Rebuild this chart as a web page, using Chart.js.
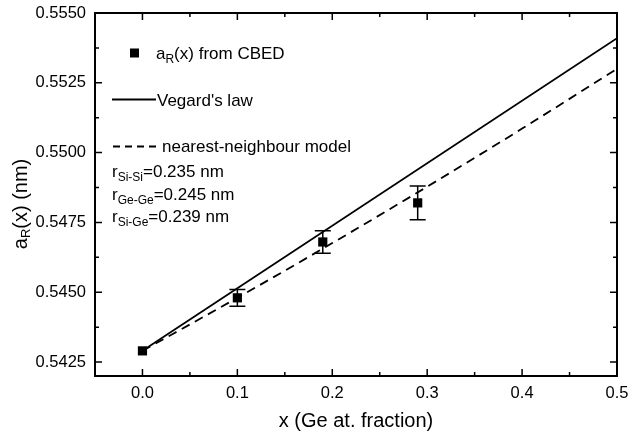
<!DOCTYPE html>
<html lang="en">
<head>
<meta charset="utf-8">
<title>SiGe lattice parameter</title>
<script src="https://cdn.jsdelivr.net/npm/chart.js"></script>
<style>
  body { margin: 0; background: #fff; }
  #box { position: relative; width: 629px; height: 436px; }
</style>
</head>
<body>
<div id="box"><canvas id="myChart" width="629" height="436"></canvas></div>

<script>
// lattice parameter measured by CBED, with error bars
const cbedX = [0.0, 0.1, 0.19, 0.29];
const cbedY = [0.5429, 0.5448, 0.5468, 0.5482];
const cbedErr = [0.0, 0.0003, 0.0004, 0.0006];

// Vegard's law
const vegardX = [0.0, 0.5];
const vegardY = [0.5429, 0.5541];

// nearest-neighbour model
const nnX = [0.0, 0.1, 0.2, 0.3, 0.4, 0.5];
const nnY = [0.5429, 0.5448, 0.54676, 0.54878, 0.55086, 0.5530];

// axis ticks
const xMajor = [0.0, 0.1, 0.2, 0.3, 0.4, 0.5];
const xMinor = [0.05, 0.15, 0.25, 0.35, 0.45];
const yMajor = [0.5425, 0.5450, 0.5475, 0.5500, 0.5525, 0.5550];
const yMinor = [0.54375, 0.54625, 0.54875, 0.55125, 0.55375];

const FONT = '"Liberation Sans", Arial, sans-serif';

function pts(xs, ys) {
    return xs.map((x, i) => ({x: x, y: ys[i]}));
}

function isMajor(list, v) {
    return list.some(m => Math.abs(m - v) < 1e-9);
}

// text with subscripts, parts = [[text, isSub], ...]
function subText(ctx, x, y, parts, size, subSize, drop) {
    parts.forEach(p => {
        ctx.font = (p[1] ? subSize : size) + 'px ' + FONT;
        ctx.fillText(p[0], x, y + (p[1] ? drop : 0));
        x += ctx.measureText(p[0]).width;
    });
    return x;
}

function subWidth(ctx, parts, size, subSize) {
    let w = 0;
    parts.forEach(p => {
        ctx.font = (p[1] ? subSize : size) + 'px ' + FONT;
        w += ctx.measureText(p[0]).width;
    });
    return w;
}

// frame, inward ticks, error bars, legend and y title
const decor = {
    id: 'decor',
    afterDatasetsDraw(chart) {
        const ctx = chart.ctx;
        const a = chart.chartArea;
        const sx = chart.scales.x, sy = chart.scales.y;
        ctx.save();
        ctx.strokeStyle = '#000';
        ctx.fillStyle = '#000';

        // error bars
        ctx.lineWidth = 1.5;
        ctx.beginPath();
        cbedX.forEach((x, i) => {
            if (!cbedErr[i]) return;
            const px = sx.getPixelForValue(x);
            const t = sy.getPixelForValue(cbedY[i] + cbedErr[i]);
            const b = sy.getPixelForValue(cbedY[i] - cbedErr[i]);
            ctx.moveTo(px, t); ctx.lineTo(px, b);
            ctx.moveTo(px - 8, t); ctx.lineTo(px + 8, t);
            ctx.moveTo(px - 8, b); ctx.lineTo(px + 8, b);
        });
        ctx.stroke();

        // frame
        ctx.lineWidth = 2;
        ctx.strokeRect(a.left, a.top, a.right - a.left, a.bottom - a.top);

        // ticks pointing inwards on all four sides
        ctx.lineWidth = 1.5;
        ctx.beginPath();
        const tx = (v, len) => {
            const p = sx.getPixelForValue(v);
            ctx.moveTo(p, a.bottom); ctx.lineTo(p, a.bottom - len);
            ctx.moveTo(p, a.top); ctx.lineTo(p, a.top + len);
        };
        const ty = (v, len) => {
            const p = sy.getPixelForValue(v);
            ctx.moveTo(a.left, p); ctx.lineTo(a.left + len, p);
            ctx.moveTo(a.right, p); ctx.lineTo(a.right - len, p);
        };
        xMajor.forEach(v => tx(v, 7));
        xMinor.forEach(v => tx(v, 4));
        yMajor.forEach(v => ty(v, 7));
        yMinor.forEach(v => ty(v, 4));
        ctx.stroke();

        // legend
        ctx.textAlign = 'left';
        ctx.textBaseline = 'alphabetic';
        ctx.fillRect(130, 48.5, 9, 9);
        subText(ctx, 156, 59, [['a', false], ['R', true], ['(x) from CBED', false]], 17, 12, 4);

        ctx.lineWidth = 1.8;
        ctx.beginPath();
        ctx.moveTo(112, 99.5); ctx.lineTo(156, 99.5);
        ctx.stroke();
        ctx.font = '17px ' + FONT;
        ctx.fillText("Vegard's law", 157, 105.5);

        ctx.setLineDash([7, 5]);
        ctx.beginPath();
        ctx.moveTo(113, 146.5); ctx.lineTo(161, 146.5);
        ctx.stroke();
        ctx.setLineDash([]);
        ctx.fillText('nearest-neighbour model', 162, 152);

        subText(ctx, 112, 177, [['r', false], ['Si-Si', true], ['=0.235 nm', false]], 17, 12, 4);
        subText(ctx, 112, 199.5, [['r', false], ['Ge-Ge', true], ['=0.245 nm', false]], 17, 12, 4);
        subText(ctx, 112, 222, [['r', false], ['Si-Ge', true], ['=0.239 nm', false]], 17, 12, 4);

        // y axis title
        const yt = [['a', false], ['R', true], ['(x) (nm)', false]];
        const w = subWidth(ctx, yt, 20, 13);
        ctx.translate(27, 204);
        ctx.rotate(-Math.PI / 2);
        subText(ctx, -w / 2, 0, yt, 20, 13, 3);
        ctx.restore();
    }
};

const ctx = document.getElementById('myChart');

new Chart(ctx, {
    type: 'scatter',
    data: {
        datasets: [{
            label: 'aR(x) from CBED',
            data: pts(cbedX, cbedY),
            pointStyle: 'rect',
            pointRadius: 6.5,
            backgroundColor: '#000',
            borderColor: '#000',
            borderWidth: 0
        }, {
            label: "Vegard's law",
            data: pts(vegardX, vegardY),
            showLine: true,
            pointRadius: 0,
            borderColor: '#000',
            borderWidth: 1.8
        }, {
            label: 'nearest-neighbour model',
            data: pts(nnX, nnY),
            showLine: true,
            cubicInterpolationMode: 'monotone',
            pointRadius: 0,
            borderColor: '#000',
            borderWidth: 1.8,
            borderDash: [9, 6]
        }]
    },
    options: {
        responsive: false,
        animation: false,
        layout: { padding: { left: 0, right: 12, top: 13, bottom: 0 } },
        plugins: {
            legend: { display: false },
            tooltip: { enabled: false }
        },
        scales: {
            x: {
                type: 'linear',
                min: -0.05,
                max: 0.5,
                afterBuildTicks: s => { s.ticks = xMajor.concat(xMinor).sort((p, q) => p - q).map(v => ({value: v})); },
                afterFit: s => { s.height = 60; s.paddingLeft = 0; s.paddingRight = 0; },
                grid: { display: false, drawTicks: false },
                border: { display: false },
                ticks: {
                    autoSkip: false,
                    maxRotation: 0,
                    padding: 8,
                    color: '#000',
                    font: { family: FONT, size: 16.5 },
                    callback: v => isMajor(xMajor, v) ? v.toFixed(1) : ''
                },
                title: {
                    display: true,
                    text: 'x (Ge at. fraction)',
                    color: '#000',
                    font: { family: FONT, size: 20 },
                    padding: { top: 0, bottom: 3 }
                }
            },
            y: {
                type: 'linear',
                min: 0.5420,
                max: 0.5550,
                afterBuildTicks: s => { s.ticks = yMajor.concat(yMinor).sort((p, q) => p - q).map(v => ({value: v})); },
                afterFit: s => { s.width = 95; s.paddingTop = 0; s.paddingBottom = 0; },
                grid: { display: false, drawTicks: false },
                border: { display: false },
                ticks: {
                    autoSkip: false,
                    padding: 9,
                    color: '#000',
                    font: { family: FONT, size: 16.5 },
                    callback: v => isMajor(yMajor, v) ? v.toFixed(4) : ''
                }
            }
        }
    },
    plugins: [decor]
});
</script>
</body>
</html>
